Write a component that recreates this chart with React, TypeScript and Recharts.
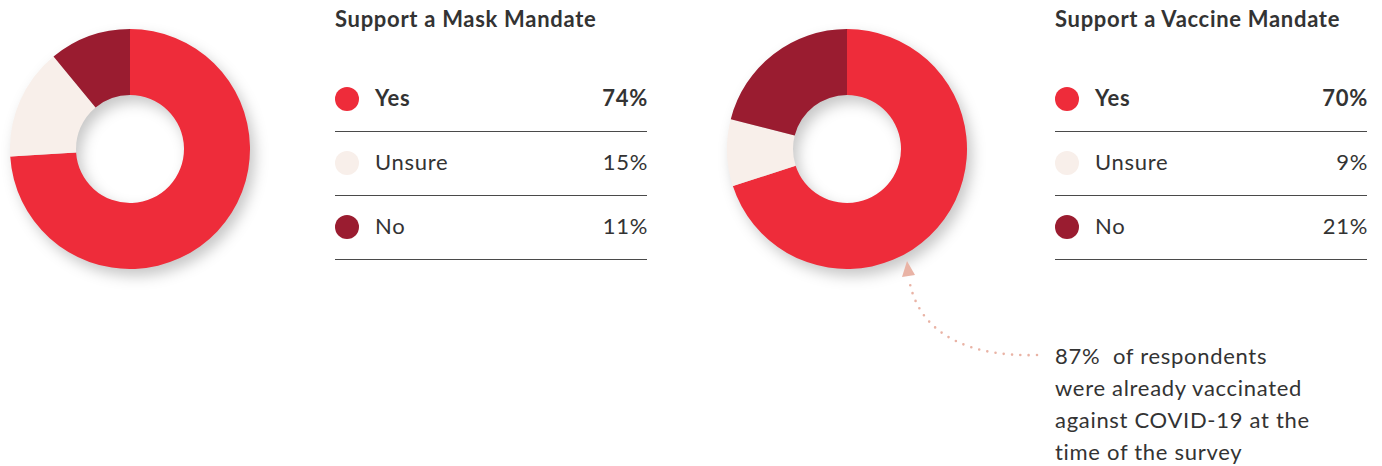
import React from "react";
import { PieChart, Pie, Cell } from "recharts";

const categories = ["Yes", "Unsure", "No"];
const maskValues = [74, 15, 11];
const vaccineValues = [70, 9, 21];
const sliceColors = ["#EE2C3A", "#F8EFEA", "#9A1C30"];

const vaccinatedShare = 87;
const noteLines = [
  `${vaccinatedShare}%  of respondents`,
  "were already vaccinated",
  "against COVID-19 at the",
  "time of the survey",
];

const FONT = "Lato, 'Open Sans', sans-serif";
const TEXT = "#333333";
const SIZE = 22;
const SPACING = "0.7px";

function Donut({ values, left }: { values: number[]; left: number }) {
  const data = categories.map((name, i) => ({ name, value: values[i] }));
  return (
    <div
      style={{
        position: "absolute",
        left,
        top: 9,
        width: 280,
        height: 280,
        filter: "drop-shadow(5px 7px 7px rgba(0,0,0,0.22))",
      }}
    >
      <PieChart width={280} height={280} margin={{ top: 0, right: 0, bottom: 0, left: 0 }}>
        <Pie
          data={data}
          dataKey="value"
          cx="50%"
          cy="50%"
          innerRadius={54}
          outerRadius={120}
          startAngle={90}
          endAngle={-270}
          stroke="none"
          isAnimationActive={false}
        >
          {data.map((entry, index) => (
            <Cell key={`cell-${index}`} fill={sliceColors[index]} />
          ))}
        </Pie>
      </PieChart>
    </div>
  );
}

function LegendTable({
  title,
  values,
  left,
}: {
  title: string;
  values: number[];
  left: number;
}) {
  const width = 312;
  return (
    <div
      style={{
        position: "absolute",
        left,
        top: 0,
        width,
        fontFamily: FONT,
        color: TEXT,
        letterSpacing: SPACING,
      }}
    >
      <div
        style={{
          position: "absolute",
          top: 5,
          left: 0,
          fontSize: SIZE,
          fontWeight: 700,
          whiteSpace: "nowrap",
          lineHeight: "28px",
        }}
      >
        {title}
      </div>
      {categories.map((name, i) => {
        const top = 67 + i * 64;
        const bold = i === 0;
        return (
          <div
            key={name}
            style={{ position: "absolute", left: 0, top, width, height: 64 }}
          >
            <div
              style={{
                position: "absolute",
                left: 0,
                top: 20,
                width: 24,
                height: 24,
                borderRadius: "50%",
                background: sliceColors[i],
              }}
            />
            <div
              style={{
                position: "absolute",
                left: 40,
                top: 18,
                fontSize: SIZE,
                fontWeight: bold ? 700 : 400,
                lineHeight: "26px",
              }}
            >
              {name}
            </div>
            <div
              style={{
                position: "absolute",
                right: 0,
                top: 18,
                fontSize: SIZE,
                fontWeight: bold ? 700 : 400,
                lineHeight: "26px",
                letterSpacing: 0.7,
                marginRight: -1,
              }}
            >
              {values[i]}%
            </div>
            <div
              style={{
                position: "absolute",
                left: 0,
                top: 64,
                width,
                height: 1,
                background: "#4a4a4a",
              }}
            />
          </div>
        );
      })}
    </div>
  );
}

export default function App() {
  return (
    <div
      style={{
        position: "absolute",
        left: 0,
        top: 0,
        width: 1382,
        height: 466,
        background: "#ffffff",
        overflow: "hidden",
      }}
    >
      <Donut values={maskValues} left={-10} />
      <Donut values={vaccineValues} left={707} />
      <LegendTable title="Support a Mask Mandate" values={maskValues} left={335} />
      <LegendTable title="Support a Vaccine Mandate" values={vaccineValues} left={1055} />
      <svg
        width={1382}
        height={466}
        style={{ position: "absolute", left: 0, top: 0, pointerEvents: "none" }}
      >
        <path
          d="M 1037 355 C 975 357 922 338 910 284"
          fill="none"
          stroke="#E9B3A5"
          strokeWidth={2.6}
          strokeLinecap="round"
          strokeDasharray="0 8.3"
        />
        <polygon points="907,261 902,277 915,275" fill="#E9B3A5" />
      </svg>
      <div
        style={{
          position: "absolute",
          left: 1055,
          top: 340,
          fontFamily: FONT,
          fontSize: SIZE,
          lineHeight: "32px",
          letterSpacing: SPACING,
          color: TEXT,
          whiteSpace: "pre",
        }}
      >
        {noteLines.map((line) => (
          <div key={line}>{line}</div>
        ))}
      </div>
    </div>
  );
}
